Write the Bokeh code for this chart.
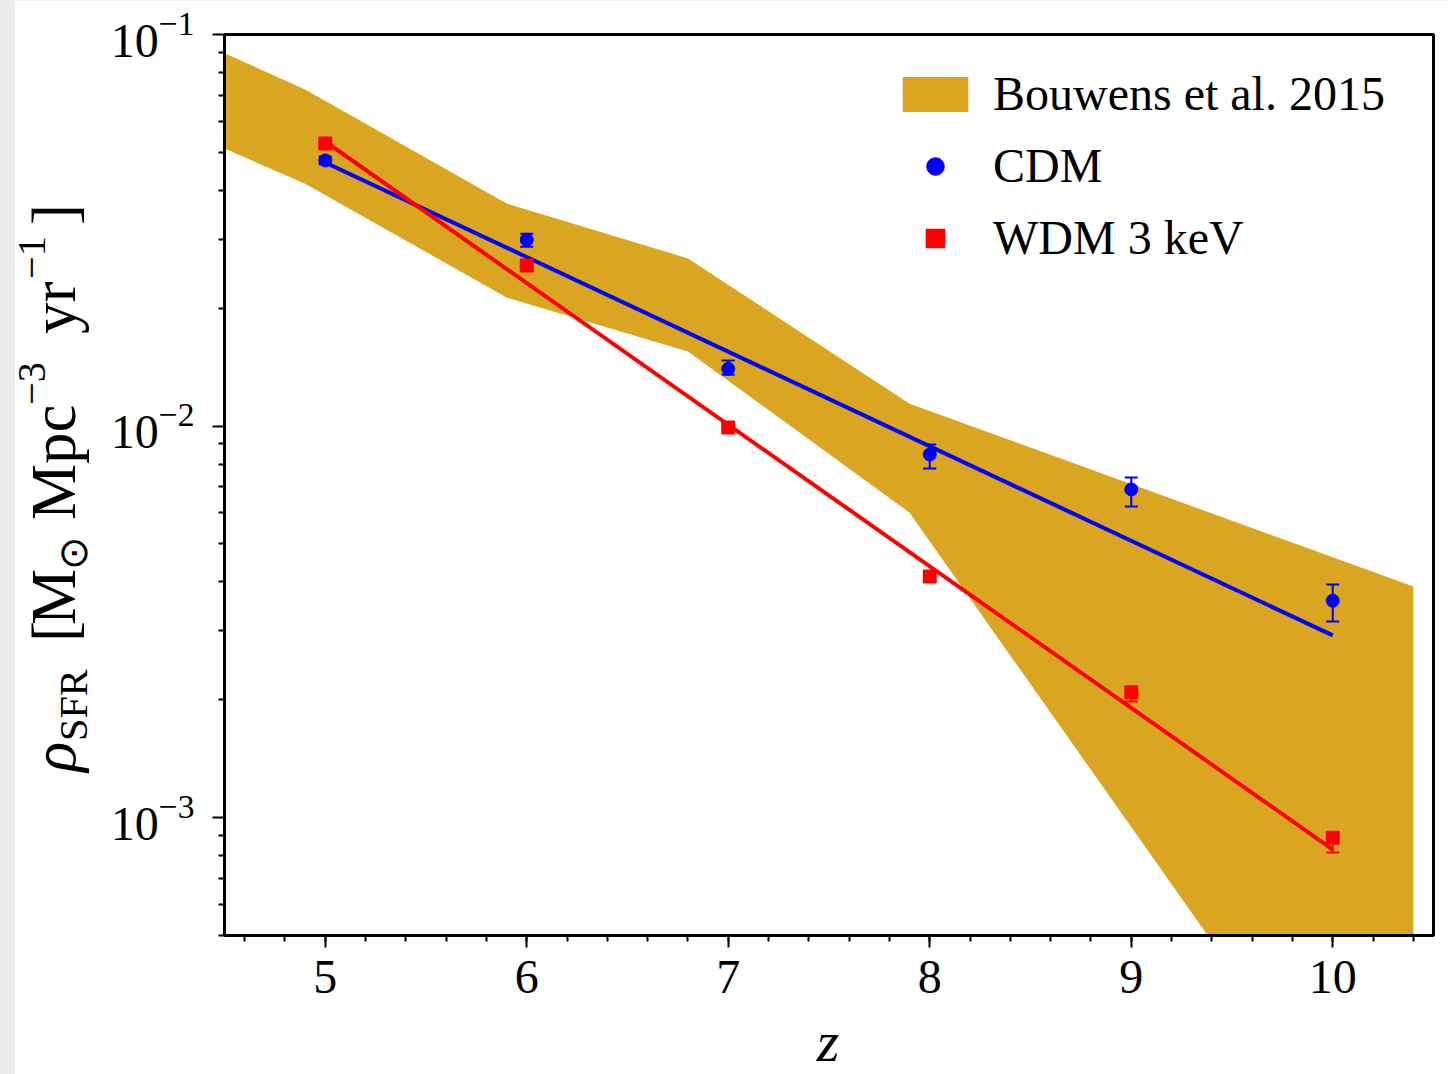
import math
from bokeh.plotting import figure
from bokeh.models import (ColumnDataSource, FixedTicker, Legend, LegendItem,
                          Whisker, TeeHead, Div, GridBox)
from bokeh.embed import file_html
from bokeh.resources import INLINE

# ---------------- data ----------------
# Bouwens et al. 2015 band (redshift, lower, upper)
band_z = [3.8, 4.9, 5.9, 6.8, 7.9, 10.4]
band_lo = [0.0734, 0.0416, 0.0213, 0.0155, 0.00601, 0.00009]
band_hi = [0.130, 0.0724, 0.0370, 0.0268, 0.01141, 0.00389]

z = [5, 6, 7, 8, 9, 10]
cdm = [0.0477, 0.0299, 0.0140, 0.00846, 0.00689, 0.00358]
cdm_up = [0.0488, 0.0310, 0.0147, 0.00897, 0.00739, 0.00394]
cdm_lo = [0.0466, 0.0287, 0.01353, 0.00779, 0.00623, 0.00317]

wdm = [0.0527, 0.0257, 0.00991, 0.00413, 0.00209, 0.000889]
wdm_up = [0.0535, 0.0262, 0.0101, 0.00420, 0.00213, 0.000905]
wdm_lo = [0.0519, 0.0252, 0.0097, 0.00405, 0.00198, 0.000814]

fit_z = [5, 10]
cdm_fit = [0.0471, 0.00292]
wdm_fit = [0.0533, 0.000829]

x_major = [5, 6, 7, 8, 9, 10]
y_major = [1e-3, 1e-2, 1e-1]

# ---------------- figure ----------------
FONT = "Liberation Serif"
p = figure(width=1434, height=1074, x_range=(4.5, 10.5), y_range=(5e-4, 0.1),
           y_axis_type="log", output_backend="svg", toolbar_location=None,
           min_border_left=210, min_border_right=15, min_border_top=34,
           min_border_bottom=139)
p.background_fill_color = "white"
p.border_fill_color = "white"
p.outline_line_color = "black"
p.outline_line_width = 3
p.outline_line_alpha = 1
p.xgrid.visible = False
p.ygrid.visible = False

x_minor = [round(4.6 + 0.2 * i, 1) for i in range(30)]
y_minor = [k * 10.0 ** e for e in (-4, -3, -2) for k in range(2, 10)]
p.xaxis.ticker = FixedTicker(ticks=x_major, minor_ticks=x_minor)
p.yaxis.ticker = FixedTicker(ticks=y_major, minor_ticks=y_minor)

for ax in (p.xaxis, p.yaxis):
    ax.axis_line_width = 3
    ax.axis_line_color = "black"
    ax.major_tick_in = 0
    ax.minor_tick_in = 0
    ax.major_tick_out = 12
    ax.minor_tick_out = 6
    ax.major_tick_line_width = 2
    ax.minor_tick_line_width = 2
    ax.major_tick_line_color = "black"
    ax.minor_tick_line_color = "black"
    ax.major_label_text_font = FONT
    ax.major_label_text_font_size = "48px"
    ax.major_label_text_color = "black"
    ax.axis_label = ""
p.xaxis.major_label_standoff = 13
p.yaxis.major_label_standoff = 18

# band
band = p.varea(x=band_z, y1=band_lo, y2=band_hi, fill_color="#DAA520", fill_alpha=1)

# fit lines
p.line(fit_z, cdm_fit, line_color="#0000ff", line_width=4)
p.line(fit_z, wdm_fit, line_color="#ff0000", line_width=4)

# points
src_c = ColumnDataSource(dict(z=z, y=cdm, up=cdm_up, lo=cdm_lo))
src_w = ColumnDataSource(dict(z=z, y=wdm, up=wdm_up, lo=wdm_lo))
cdm_r = p.scatter("z", "y", source=src_c, marker="circle", size=13,
                  fill_color="#0000ff", line_color="#0000ff")
wdm_r = p.scatter("z", "y", source=src_w, marker="square", size=12,
                  fill_color="#ff0000", line_color="#ff0000", line_join="round", line_width=2)

for src, col in ((src_c, "#0000ff"), (src_w, "#ff0000")):
    w = Whisker(source=src, base="z", upper="up", lower="lo", dimension="height",
                line_color=col, line_width=2, level="annotation",
                upper_head=TeeHead(size=13, line_color=col, line_width=2),
                lower_head=TeeHead(size=13, line_color=col, line_width=2))
    p.add_layout(w)

# legend
legend = Legend(items=[LegendItem(label="Bouwens et al. 2015", renderers=[band]),
                       LegendItem(label="CDM", renderers=[cdm_r]),
                       LegendItem(label="WDM 3 keV", renderers=[wdm_r])],
                location=(670, 670), glyph_width=82, glyph_height=44,
                spacing=17, padding=0, margin=0, label_standoff=17,
                label_height=53,
                label_text_font=FONT, label_text_font_size="48px",
                label_text_color="black",
                border_line_alpha=0, background_fill_alpha=0)
p.add_layout(legend)

# page background strip on the left
try:
    from bokeh.models import GlobalInlineStyleSheet
    p.stylesheets = [GlobalInlineStyleSheet(css="html, body { background-color: #ebebeb; margin: 0; }")]
except Exception:
    pass
p.styles = {"margin-left": "14px"}

# axis labels (y label rotated, with sub/superscripts) as real HTML text
MAIN = ""
SUBS = "font-size:0.64em; vertical-align:-0.3em; line-height:0;"
SUPS = "font-size:0.64em; vertical-align:0.75em; line-height:0;"
ylabel_pieces = [("<i>ρ</i>", 31, MAIN), ("SFR", 82, SUBS), ("", 17, MAIN),
                 ("[", 17, MAIN), ("M", 55, MAIN), ("⊙", 33, SUBS), ("", 17, MAIN),
                 ("Mpc", 115, MAIN), ("−3", 54, SUPS), ("", 17, MAIN),
                 ("yr", 55, MAIN), ("−1", 54, SUPS), ("]", 17, MAIN)]
spans = "".join(
    f'<span style="display:inline-block; width:{w}px; white-space:nowrap; {st}">{t}</span>'
    for t, w, st in ylabel_pieces)
total_w = sum(w for _, w, _ in ylabel_pieces)
cx, cy = 49, 767 - total_w / 2
ylabel_html = (
    f'<div style="position:absolute; left:{cx - total_w / 2}px; top:{cy - 31}px; '
    f'width:{total_w}px; height:62px; line-height:62px; text-align:left; '
    'transform:rotate(-90deg); z-index:10; white-space:nowrap; '
    "font-family:'Liberation Serif'; font-size:63px; color:#000;\">" + spans + '</div>'
)
xlabel_html = (
    '<div style="position:absolute; left:773px; top:1008px; width:100px; height:58px; '
    'line-height:58px; text-align:center; z-index:10; '
    "font-family:'Liberation Serif'; font-size:58px; font-style:italic; color:#000;\">z</div>"
)
div = Div(text=ylabel_html + xlabel_html, width=1448, height=1074,
          styles={"pointer-events": "none", "position": "relative"})

root = GridBox(children=[(p, 0, 0), (div, 0, 0)])

open("out.html", "w").write(file_html(root, INLINE))
